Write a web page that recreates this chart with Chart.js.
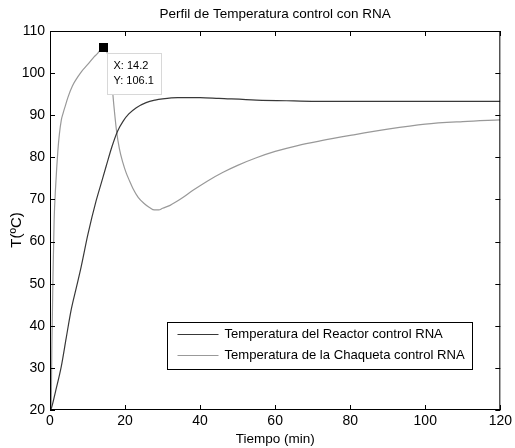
<!DOCTYPE html>
<html>
<head>
<meta charset="utf-8">
<script src="https://cdn.jsdelivr.net/npm/chart.js@4"></script>
<style>
  body { margin: 0; background: #fff; }
</style>
</head>
<body>
<canvas id="myChart" width="515" height="448"></canvas>
<script>
// data
const reactorTime = [0, 0.35, 1.5, 3, 4.3, 5.6, 7, 8.3, 10.1, 12.3, 13.7, 15, 16.5, 18, 19.5, 21, 23, 25.6, 28, 30, 34, 40, 45, 55, 65, 72, 80, 100, 120];
const reactorTemp = [20, 20.4, 24.5, 30.3, 37, 43.6, 49, 54, 61.7, 69.7, 74, 78, 82.5, 86.2, 88.6, 90.3, 91.8, 93, 93.6, 93.9, 94.2, 94.2, 94, 93.6, 93.4, 93.3, 93.3, 93.3, 93.3];

const jacketTime = [0, 0.3, 0.5, 0.8, 1.1, 1.5, 2.1, 2.5, 3, 3.5, 4, 4.8, 6, 7.4, 8.5, 10, 11.8, 12.5, 14.2, 15.5, 16.3, 17, 17.7, 18.5, 19.4, 20.3, 21.2, 22.1, 23.5, 25, 26.5, 27.8, 29, 30, 32, 35, 38, 42, 46, 50, 55, 60, 66, 72, 80, 90, 100, 110, 120];
const jacketTemp = [20, 21, 35, 52, 65, 73, 81.6, 85.5, 88.8, 90.5, 92, 94.3, 97, 99.1, 100.5, 102, 103.9, 104.5, 106.1, 104, 99.5, 92.5, 86.5, 82, 78.8, 76.3, 74.4, 72.6, 70.5, 69.1, 68.1, 67.5, 67.5, 67.9, 68.6, 70.2, 72.1, 74.4, 76.4, 78.1, 79.9, 81.4, 82.8, 83.9, 85.2, 86.7, 87.9, 88.5, 88.9];

const tipX = [14.2];
const tipY = [106.1];

const xTicks = [0, 20, 40, 60, 80, 100, 120];
const yTicks = [20, 30, 40, 50, 60, 70, 80, 90, 100, 110];

const seriesNames = ['Temperatura del Reactor control RNA', 'Temperatura de la Chaqueta control RNA'];
const titleText = 'Perfil de Temperatura control con RNA';
const xTitle = 'Tiempo (min)';
const yTitle = 'T(\u00baC)';

const FONT = '"Liberation Sans", Arial, sans-serif';

const toPoints = (xs, ys) => xs.map((x, i) => ({ x: x, y: ys[i] }));

// frame, inner ticks, title, axis titles, datatip and legend box
const decor = {
    id: 'decor',
    afterDatasetsDraw(chart) {
        const ctx = chart.ctx;
        const a = chart.chartArea;
        const xs = chart.scales.x, ys = chart.scales.y;
        ctx.save();

        // box
        ctx.strokeStyle = '#000';
        ctx.lineWidth = 1;
        ctx.strokeRect(a.left + 0.5, a.top + 0.5, a.right - a.left - 1, a.bottom - a.top - 1);

        // ticks pointing inward on all sides
        ctx.beginPath();
        xTicks.forEach(v => {
            const px = Math.round(xs.getPixelForValue(v)) + 0.5;
            ctx.moveTo(px, a.bottom); ctx.lineTo(px, a.bottom - 5);
            ctx.moveTo(px, a.top); ctx.lineTo(px, a.top + 5);
        });
        yTicks.forEach(v => {
            const py = Math.round(ys.getPixelForValue(v)) + 0.5;
            ctx.moveTo(a.left, py); ctx.lineTo(a.left + 5, py);
            ctx.moveTo(a.right, py); ctx.lineTo(a.right - 5, py);
        });
        ctx.stroke();

        // marker of the datatip
        const tx = xs.getPixelForValue(tipX[0]);
        const ty = ys.getPixelForValue(tipY[0]);
        ctx.fillStyle = '#000';
        ctx.fillRect(Math.round(tx) - 4, Math.round(ty) - 4, 9, 9);

        // title
        ctx.fillStyle = '#000';
        ctx.font = '13.5px ' + FONT;
        ctx.textAlign = 'center';
        ctx.textBaseline = 'alphabetic';
        ctx.save();
        ctx.beginPath();
        ctx.rect(0, 8, 515, 20);
        ctx.clip();
        ctx.fillText(titleText, (a.left + a.right) / 2, 18);
        ctx.restore();

        // axis titles
        ctx.font = '13.5px ' + FONT;
        ctx.fillText(xTitle, (a.left + a.right) / 2, 443);
        ctx.save();
        ctx.translate(21, 230);
        ctx.rotate(-Math.PI / 2);
        ctx.font = '15px ' + FONT;
        ctx.fillText(yTitle, 0, 0);
        ctx.restore();

        // datatip box
        const bx = Math.round(tx) + 4.5, by = Math.round(ty) + 6.5;
        ctx.fillStyle = '#fff';
        ctx.fillRect(bx, by, 54, 41);
        ctx.strokeStyle = '#d8d8d8';
        ctx.strokeRect(bx, by, 54, 41);
        ctx.fillStyle = '#000';
        ctx.font = '11px ' + FONT;
        ctx.textAlign = 'left';
        ctx.fillText('X: ' + tipX[0].toFixed(1), bx + 6, by + 15);
        ctx.fillText('Y: ' + tipY[0].toFixed(1), bx + 6, by + 30);

        // legend
        const lx = 167.5, ly = 322.5, lw = 305, lh = 47;
        ctx.fillStyle = '#fff';
        ctx.fillRect(lx, ly, lw, lh);
        ctx.strokeStyle = '#000';
        ctx.strokeRect(lx, ly, lw, lh);
        ctx.font = '13.1px ' + FONT;
        ctx.textBaseline = 'middle';
        seriesNames.forEach((name, i) => {
            const yy = ly + 12 + i * 21;
            ctx.strokeStyle = chart.data.datasets[i].borderColor;
            ctx.lineWidth = 1.2;
            ctx.beginPath();
            ctx.moveTo(lx + 10, yy);
            ctx.lineTo(lx + 51, yy);
            ctx.stroke();
            ctx.fillStyle = '#000';
            ctx.fillText(name, lx + 57, yy);
        });

        ctx.restore();
    }
};

const ctx = document.getElementById('myChart').getContext('2d');
const chart = new Chart(ctx, {
    type: 'scatter',
    data: {
        datasets: [{
            label: seriesNames[0],
            data: toPoints(reactorTime, reactorTemp),
            showLine: true,
            borderColor: '#383838',
            borderWidth: 1.2,
            pointRadius: 0,
            cubicInterpolationMode: 'monotone'
        }, {
            label: seriesNames[1],
            data: toPoints(jacketTime, jacketTemp),
            showLine: true,
            borderColor: '#999999',
            borderWidth: 1.2,
            pointRadius: 0,
            cubicInterpolationMode: 'monotone'
        }]
    },
    options: {
        responsive: false,
        animation: false,
        layout: { padding: { top: 31, right: 12, left: 0, bottom: 0 } },
        plugins: {
            legend: { display: false },
            tooltip: { enabled: false }
        },
        scales: {
            x: {
                type: 'linear',
                min: 0, max: 120,
                afterFit: s => { s.height = 38; },
                afterBuildTicks: s => { s.ticks = xTicks.map(v => ({ value: v })); },
                grid: { display: false, drawTicks: false, tickLength: 0 },
                border: { display: false },
                ticks: { color: '#000', padding: 3, font: { family: FONT, size: 14 }, maxRotation: 0 }
            },
            y: {
                type: 'linear',
                min: 20, max: 110,
                afterFit: s => { s.width = 50; },
                afterBuildTicks: s => { s.ticks = yTicks.map(v => ({ value: v })); },
                grid: { display: false, drawTicks: false, tickLength: 0 },
                border: { display: false },
                ticks: { color: '#000', padding: 5, font: { family: FONT, size: 14 } }
            }
        }
    },
    plugins: [decor]
});
</script>
</body>
</html>
